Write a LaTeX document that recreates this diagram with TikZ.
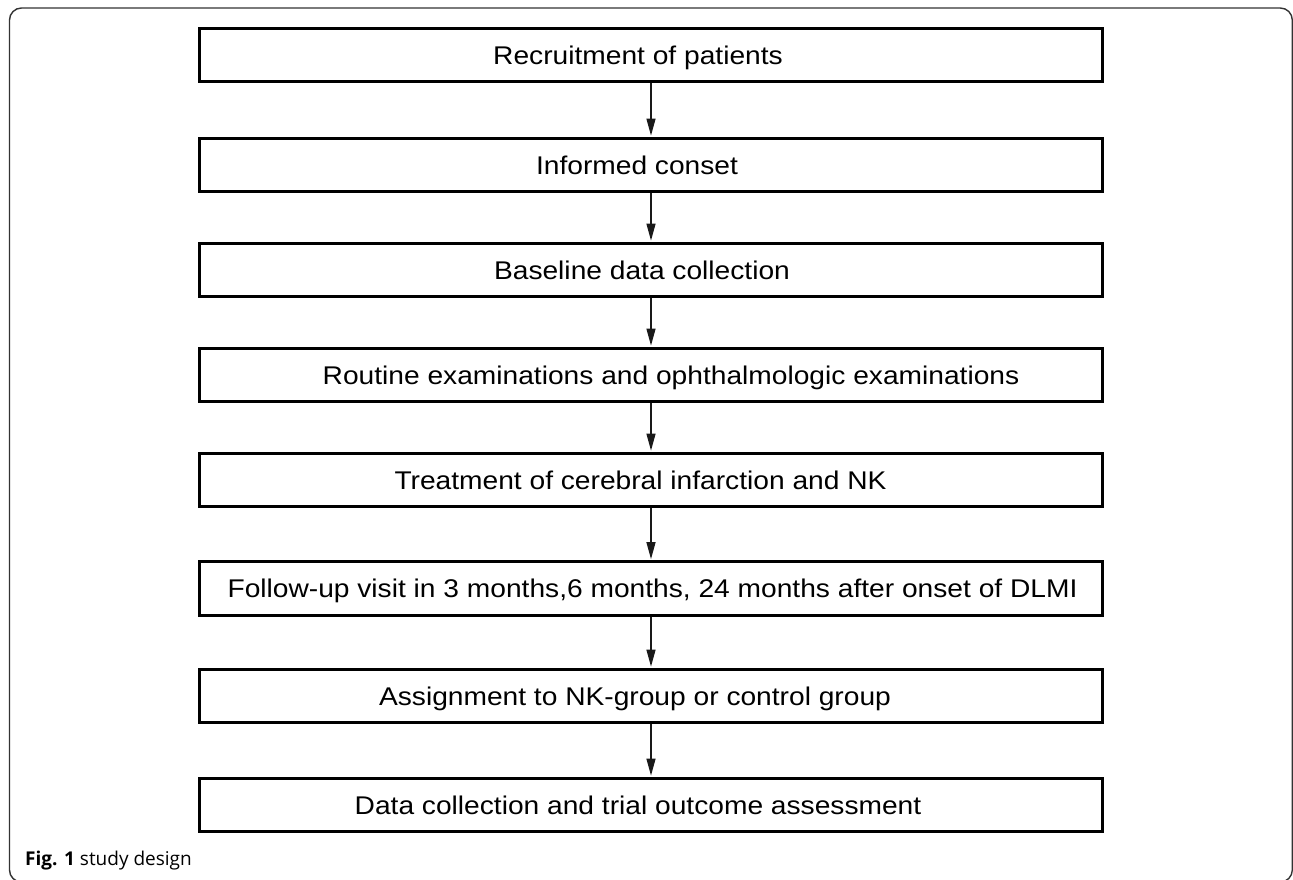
\documentclass[tikz,border=0pt]{standalone}
\usepackage{fontspec}
\setmainfont{Liberation Sans}
\newfontfamily\boxfont[FakeStretch=1.1]{Liberation Sans}
\newfontfamily\capfont{Open Sans}
\usetikzlibrary{arrows.meta}
\begin{document}
\begin{tikzpicture}[x=1pt,y=-1pt,
  stepbox/.style={draw=black, line width=2.7pt, minimum width=903pt, minimum height=53.5pt, inner sep=0pt},
  steptext/.style={anchor=base, inner sep=0pt, font=\boxfont\fontsize{25.6}{30}\selectfont},
  flow/.style={-{Triangle[length=17pt,width=9pt]}, line width=1.3pt, draw=black!90, shorten >=1.3pt}]
\useasboundingbox (0,0) rectangle (1293,879);
\draw[line width=1.4pt, draw=black!80, rounded corners=12pt] (9.5,8) rectangle (1292.3,882);
% boxes
\node[stepbox] (b1) at (651,55) {};
\node[stepbox] (b2) at (651,165) {};
\node[stepbox] (b3) at (651,270) {};
\node[stepbox] (b4) at (651,375) {};
\node[stepbox] (b5) at (651,480) {};
\node[stepbox] (b6) at (651,588.5) {};
\node[stepbox] (b7) at (651,696) {};
\node[stepbox] (b8) at (651,805) {};
% texts
\node[steptext] (t1) at (638,64) {Recruitment of patients};
\node[steptext] (t2) at (637,174) {Informed conset};
\node[steptext] (t3) at (642,279) {Baseline data collection};
\node[steptext] (t4) at (671,384) {Routine examinations and ophthalmologic examinations};
\node[steptext] (t5) at (640.5,489) {Treatment of cerebral infarction and NK};
\node[steptext] (t6) at (652.5,597.5) {Follow-up visit in 3 months,6 months, 24 months after onset of DLMI};
\node[steptext] (t7) at (635,705) {Assignment to NK-group or control group};
\node[steptext] (t8) at (638,814) {Data collection and trial outcome assessment};
% arrows
\draw[flow] (b1.south) -- (b2.north);
\draw[flow] (b2.south) -- (b3.north);
\draw[flow] (b3.south) -- (b4.north);
\draw[flow] (b4.south) -- (b5.north);
\draw[flow] (b5.south) -- (b6.north);
\draw[flow] (b6.south) -- (b7.north);
\draw[flow] (b7.south) -- (b8.north);
% caption
\node[anchor=base west, inner sep=0pt, font=\capfont\fontsize{19}{23}\selectfont] (cap) at (25,865) {\textbf{Fig. 1} study design};
\end{tikzpicture}
\end{document}
